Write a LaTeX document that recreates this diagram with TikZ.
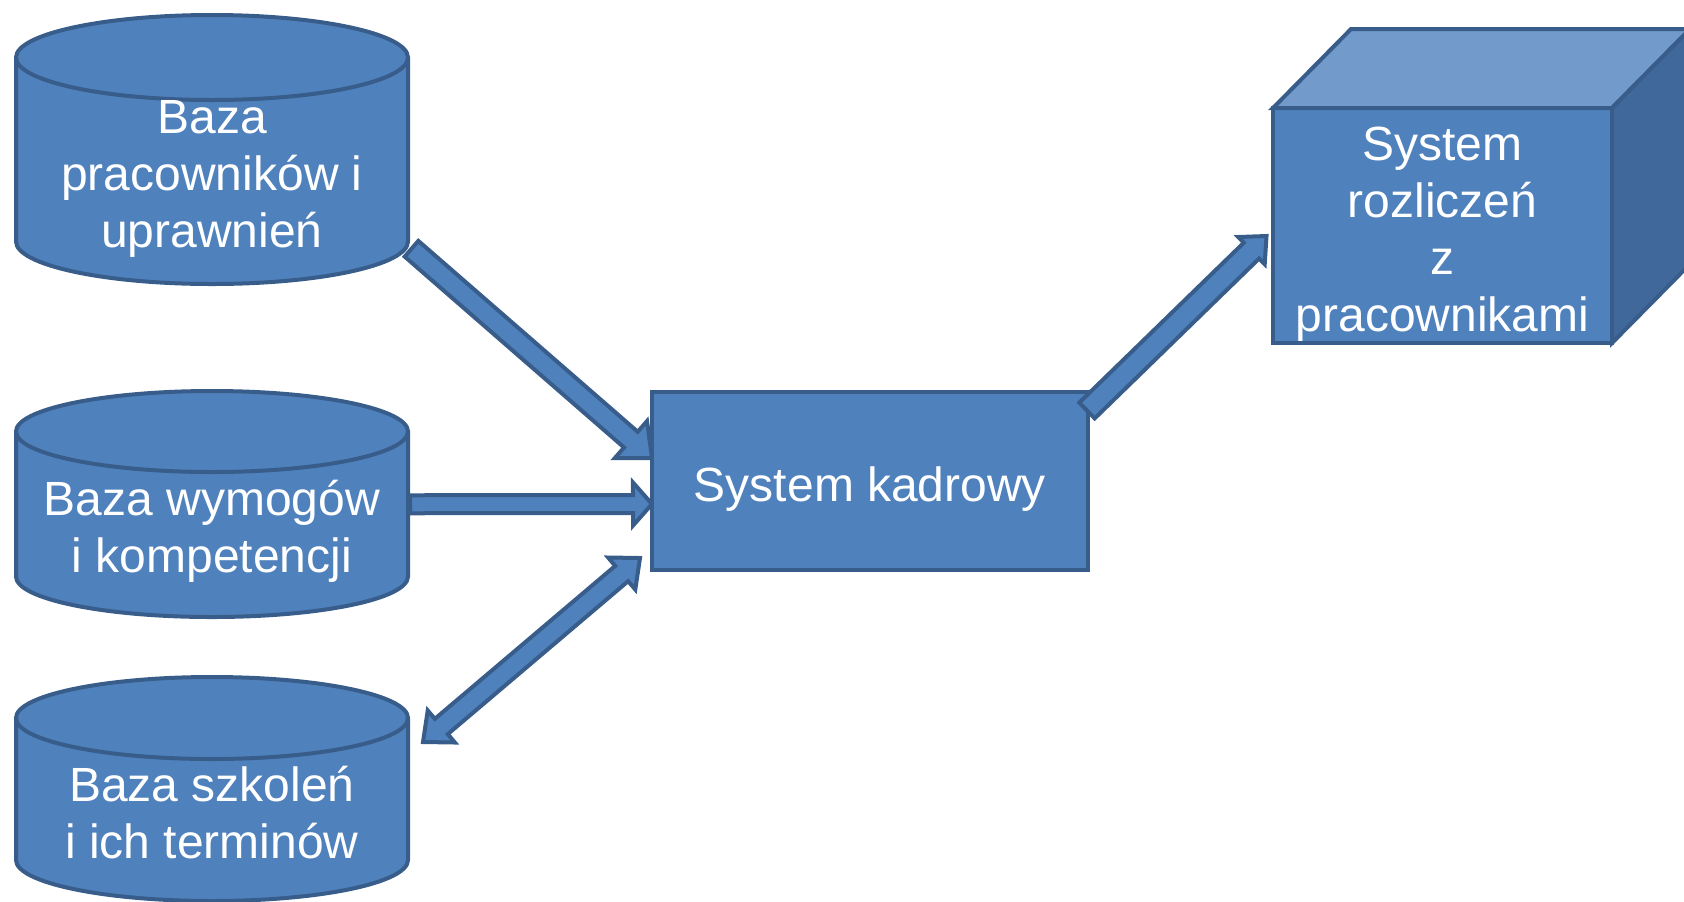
\documentclass[tikz,border=0pt]{standalone}
\usepackage{fontspec}
\setmainfont{Liberation Sans}
\usetikzlibrary{positioning}
\usetikzlibrary{calc}
\usetikzlibrary{backgrounds}
\definecolor{boxfill}{RGB}{79,129,189}
\definecolor{boxline}{RGB}{56,93,138}
\definecolor{cubetop}{RGB}{114,154,202}
\definecolor{cubeside}{RGB}{64,104,154}
% struts that put the first and the last line on the slide's grid
\newcommand{\linetop}{\rule{0pt}{25.5pt}}
\newcommand{\linebot}{\rule[-5.5pt]{0pt}{5.5pt}}
\tikzset{blocktext/.style={ % White text in the blocks
text=white,
font=\fontsize{24}{28.5}\selectfont,
align=center,
inner sep=0pt,
outer sep=0pt},
baza/.style={ % Text area of a database, the cylinder is drawn round it
blocktext,
rectangle,
minimum width=196pt},
bazabody/.style={ % Outline of the cylinder
draw=boxline,
fill=boxfill,
line width=2pt},
system/.style={ % Plain block
blocktext,
rectangle,
draw=boxline,
fill=boxfill,
line width=2pt},
conn/.style={ % Block arrow between two blocks
draw=boxline,
fill=boxfill,
line width=2pt}}
% cylinder round a database node: node name, ellipse y radius
\newcommand{\bazacylinder}[2]{
  \filldraw[bazabody] (#1.north west) -- ($(#1.south west)+(0pt,#2)$)
    arc[start angle=180, end angle=360, x radius=98pt, y radius=#2]
    -- (#1.north east) arc[start angle=0, end angle=180, x radius=98pt, y radius=#2] -- cycle;
  \draw[bazabody, fill=none] (#1.north west) arc[start angle=180, end angle=360, x radius=98pt, y radius=#2];
}
% single block arrow: shaft half width, head half width, head length, tail, tip
\newcommand{\blockarrow}[5]{
  \coordinate (ba-a) at (#4);
  \coordinate (ba-b) at (#5);
  \coordinate (ba-h) at ($(ba-b)!#3!(ba-a)$);
  \path[conn] ($(ba-a)!#1!90:(ba-b)$) -- ($(ba-h)!#1!90:(ba-b)$) -- ($(ba-h)!#2!90:(ba-b)$)
    -- (ba-b) -- ($(ba-h)!#2!-90:(ba-b)$) -- ($(ba-h)!#1!-90:(ba-b)$) -- ($(ba-a)!#1!-90:(ba-b)$) -- cycle;
}
% double block arrow: shaft half width, head half width, head length, first tip, second tip
\newcommand{\twowayarrow}[5]{
  \coordinate (ba-a) at (#4);
  \coordinate (ba-b) at (#5);
  \coordinate (ba-g) at ($(ba-a)!#3!(ba-b)$);
  \coordinate (ba-h) at ($(ba-b)!#3!(ba-a)$);
  \path[conn] (ba-a) -- ($(ba-g)!#2!90:(ba-b)$) -- ($(ba-g)!#1!90:(ba-b)$) -- ($(ba-h)!#1!-90:(ba-a)$)
    -- ($(ba-h)!#2!-90:(ba-a)$) -- (ba-b) -- ($(ba-h)!#2!90:(ba-a)$) -- ($(ba-h)!#1!90:(ba-a)$)
    -- ($(ba-g)!#1!-90:(ba-b)$) -- ($(ba-g)!#2!-90:(ba-b)$) -- cycle;
}

\begin{document}
\begin{tikzpicture}[x=0.5pt,y=-0.5pt,on grid]
  \useasboundingbox (0,0) rectangle (1684,901);
  \node[baza, minimum height=113.25pt] (pracownicy) at (212,170.75) {\linetop Baza\\pracowników i\\uprawnień\linebot};
  \node[baza, minimum height=92.75pt, below=176.75pt of pracownicy] (wymogi) {\linetop Baza wymogów\\i kompetencji\linebot};
  \node[baza, minimum height=91.5pt, below=142.625pt of wymogi] (szkolenia) {\linetop Baza szkoleń\\i ich terminów\linebot};
  \node[system, minimum width=218pt, minimum height=89pt] (kadrowy) at (870,481) {\linetop System kadrowy\linebot};
  \node[system, minimum width=169.5pt, minimum height=117.5pt] (rozliczenia) at (1442.5,225.5) {\linetop System\\rozliczeń\\z\\pracownikami\linebot};
  % top and side of the cube
  \filldraw[fill=cubetop, draw=boxline, line width=2pt] (rozliczenia.north west) -- ++(78,-79)
    -- ([shift={(78,-79)}]rozliczenia.north east) -- (rozliczenia.north east) -- cycle;
  \filldraw[fill=cubeside, draw=boxline, line width=2pt] (rozliczenia.north east) -- ++(78,-79)
    -- ([shift={(78,-79)}]rozliczenia.south east) -- (rozliczenia.south east) -- cycle;
  \begin{scope}[on background layer]
    \blockarrow{5.2pt}{12.3pt}{14pt}{$(pracownicy.east)+(3.5,78)$}{$(kadrowy.west)+(0,-23)$}
    \blockarrow{4.5pt}{10.75pt}{9.5pt}{$(wymogi.east)+(2,-20)$}{$(kadrowy.west)+(0,23)$}
    \twowayarrow{5pt}{10.5pt}{12pt}{$(szkolenia.east)+(15,-67.5)$}{$(kadrowy.south west)+(-12,-12)$}
    \bazacylinder{pracownicy}{21.25pt}
    \bazacylinder{wymogi}{20.25pt}
    \bazacylinder{szkolenia}{20.5pt}
  \end{scope}
  \blockarrow{5.5pt}{9.5pt}{10.5pt}{$(kadrowy.north east)+(-1,18.5)$}{$(rozliczenia.west)+(-6.5,10.5)$}
\end{tikzpicture}
\end{document}
